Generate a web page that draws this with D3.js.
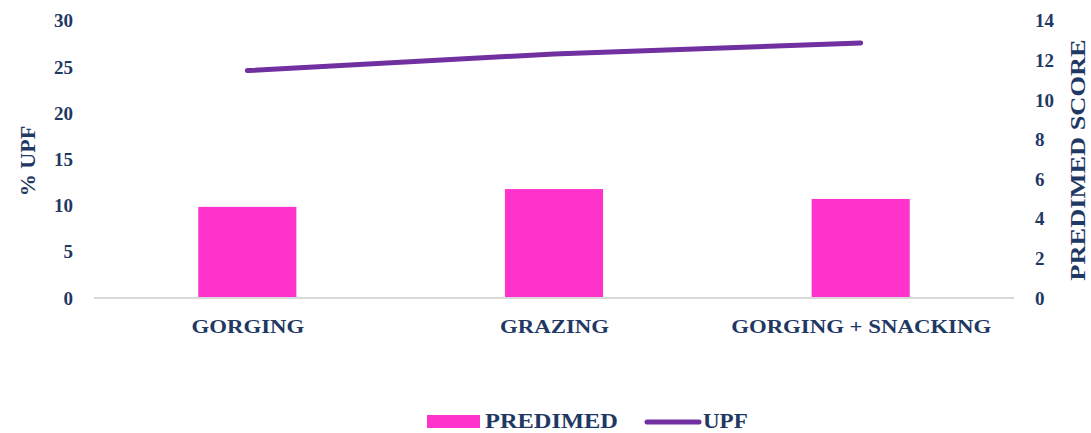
<!DOCTYPE html>
<html>
<head>
<meta charset="utf-8">
<script src="https://cdn.jsdelivr.net/npm/d3@7"></script>
<style>
  body { margin: 0; background: #fff; }
  svg text { font-family: "Liberation Serif", "DejaVu Serif", serif; font-weight: bold; fill: #1F3864; }
</style>
</head>
<body>
<svg id="chart"></svg>
<script>
const categories = ["GORGING", "GRAZING", "GORGING + SNACKING"]
const predimed = [4.6, 5.5, 5.0]      // bars, right axis
const upf = [24.6, 26.4, 27.6]        // line, left axis
const leftTicks = [0, 5, 10, 15, 20, 25, 30]
const rightTicks = [0, 2, 4, 6, 8, 10, 12, 14]

const colors = {
    bar: "#FF33CC",
    line: "#7030A0",
    axis: "#D9D9D9",
    text: "#1F3864"
}

const W = 1091, H = 433
const plot = {left: 94, right: 1014, top: 20.7, bottom: 298}

// the original font is wider (Palatino-like), stretch text horizontally
const widen = (sel, k) => sel.each(function(){
    const w = this.getComputedTextLength()
    d3.select(this).attr("textLength", w * k).attr("lengthAdjust", "spacingAndGlyphs")
})

const svg = d3.select("#chart").attr("width", W).attr("height", H)

const x = d3.scaleBand().domain(categories).range([plot.left, plot.right]).paddingInner(0.68).paddingOuter(0.34)
const xc = d3.scalePoint().domain(categories).range([plot.left, plot.right]).padding(0.5)
const yLeft = d3.scaleLinear().domain([0, 30]).range([plot.bottom, plot.top])
const yRight = d3.scaleLinear().domain([0, 14]).range([plot.bottom, plot.top])

// bars (PREDIMED)
svg.append("g").selectAll("rect")
    .data(categories)
    .enter()
    .append("rect")
    .attr("x", d => xc(d) - x.bandwidth() / 2)
    .attr("width", x.bandwidth())
    .attr("y", (d, i) => yRight(predimed[i]))
    .attr("height", (d, i) => plot.bottom - yRight(predimed[i]))
    .attr("fill", colors.bar)

// baseline
svg.append("line")
    .attr("x1", plot.left).attr("x2", plot.right)
    .attr("y1", plot.bottom).attr("y2", plot.bottom)
    .attr("stroke", colors.axis).attr("stroke-width", 2)

// line (UPF)
const line = d3.line().x((d, i) => xc(categories[i])).y(d => yLeft(d))
svg.append("path")
    .datum(upf)
    .attr("d", line)
    .attr("fill", "none")
    .attr("stroke", colors.line)
    .attr("stroke-width", 5)
    .attr("stroke-linecap", "round")

// left axis
const gl = svg.append("g").attr("transform", `translate(${73},0)`)
    .call(d3.axisLeft(yLeft).tickValues(leftTicks).tickSize(0).tickPadding(0))
gl.select(".domain").remove()
gl.selectAll("text").style("font-size", "19px").attr("fill", colors.text)

// right axis
const gr = svg.append("g").attr("transform", `translate(${1035},0)`)
    .call(d3.axisRight(yRight).tickValues(rightTicks).tickSize(0).tickPadding(0))
gr.select(".domain").remove()
gr.selectAll("text").style("font-size", "19px").attr("fill", colors.text)

// category axis
const gx = svg.append("g").attr("transform", `translate(0,${plot.bottom})`)
    .call(d3.axisBottom(xc).tickSize(0).tickPadding(22))
gx.select(".domain").remove()
gx.selectAll("text").style("font-size", "19px").attr("fill", colors.text)
widen(gx.selectAll("text"), 1.2)

// axis titles
svg.append("text")
    .attr("transform", `translate(35,${161}) rotate(-90)`)
    .attr("text-anchor", "middle")
    .style("font-size", "21px")
    .text("% UPF")
    .call(widen, 1.05)

svg.append("text")
    .attr("transform", `translate(1085,${160}) rotate(-90)`)
    .attr("text-anchor", "middle")
    .style("font-size", "22px")
    .text("PREDIMED SCORE")
    .call(widen, 1.2)

// legend
const lg = svg.append("g")
lg.append("rect").attr("x", 427).attr("y", 415).attr("width", 53).attr("height", 13).attr("fill", colors.bar)
lg.append("text").attr("x", 485).attr("y", 428).style("font-size", "20px").text("PREDIMED").call(widen, 1.22)
lg.append("line").attr("x1", 647).attr("x2", 699).attr("y1", 422).attr("y2", 422)
    .attr("stroke", colors.line).attr("stroke-width", 5).attr("stroke-linecap", "round")
lg.append("text").attr("x", 703).attr("y", 428).style("font-size", "20px").text("UPF").call(widen, 1.15)
</script>
</body>
</html>
